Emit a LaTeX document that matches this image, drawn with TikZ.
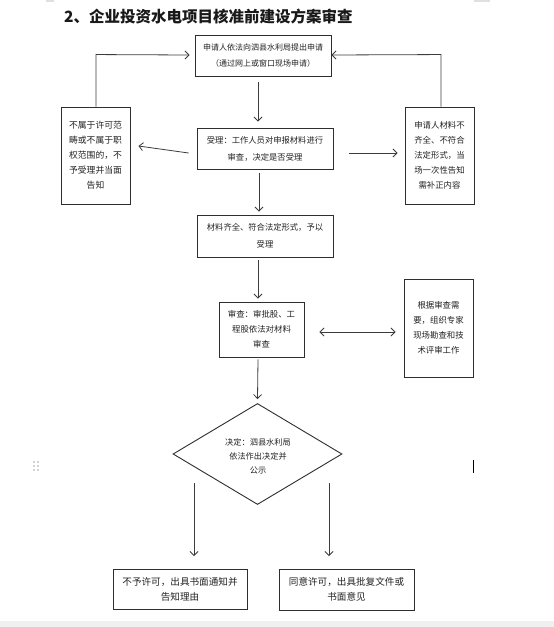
\documentclass[tikz,border=0pt]{standalone}
\usepackage{fontspec}
\setmainfont{Noto Sans CJK SC}
\newfontfamily\cjk{Noto Sans CJK SC}
\usetikzlibrary{arrows.meta,shapes.geometric}
\definecolor{ln}{HTML}{3C3C3C}
\definecolor{bx}{HTML}{2E2E2E}
\definecolor{tx}{HTML}{222222}
\tikzset{
  x=1pt,y=-1pt,
  box/.style={draw=bx,line width=0.9pt,rectangle,inner sep=0pt,align=center,text=tx,font=\cjk\fontsize{8.4}{15}\selectfont},
  widebox/.style={box,font=\cjk\fontsize{8}{16}\selectfont},
  bigbox/.style={box,font=\cjk\fontsize{9.6}{15}\selectfont},
  arr/.style={draw=ln,line width=0.8pt,-{Straight Barb[length=4pt,width=8pt]}},
  darr/.style={draw=ln,line width=0.8pt,{Straight Barb[length=4pt,width=8pt]}-{Straight Barb[length=4pt,width=8pt]}},
  ln/.style={draw=ln,line width=0.8pt}
}
\begin{document}
\begin{tikzpicture}
\useasboundingbox (0,0) rectangle (554,627);
\fill[white] (0,0) rectangle (554,627);
% page artifacts
\fill[black!6] (0,621) rectangle (554,627);
\fill[black!12] (46,0) rectangle (54,2);
\fill[black!12] (474,0) rectangle (490,2);
\foreach \i in {0,1,2}{\fill[black!35] (34,{462+\i*4}) circle (0.8); \fill[black!35] (38,{462+\i*4}) circle (0.8);}
\fill[black] (472.5,460) rectangle (474,473);
% title
\node[anchor=west,text=black!90,font=\cjk\bfseries\fontsize{15.5}{18}\selectfont,inner sep=0pt] (title) at (64,17) {2、企业投资水电项目核准前建设方案审查};
% boxes
\node[widebox,minimum width=136,minimum height=41] (b1) at (263,55.5) {申请人依法向泗县水利局提出申请\\（通过网上或窗口现场申请）};
\node[widebox,font=\cjk\fontsize{8.3}{17}\selectfont,minimum width=136,minimum height=41] (b2) at (265,148.5) {受理：工作人员对申报材料进行\\审查，决定是否受理};
\node[widebox,font=\cjk\fontsize{8.3}{17}\selectfont,minimum width=136,minimum height=42] (b3) at (265,236) {材料齐全、符合法定形式，予以\\受理};
\node[box,minimum width=85,minimum height=55] (b4) at (261.5,329.5) {审查：审批股、工\\程股依法对材料\\审查};
\node[box,font=\cjk\fontsize{8.8}{15}\selectfont,minimum width=69,minimum height=97] (lb) at (95.5,155.5) {不属于许可范\\畴或不属于职\\权范围的，不\\予受理并当面\\告知};
\node[box,minimum width=69,minimum height=97] (rb) at (439.5,155.5) {申请人材料不\\齐全、不符合\\法定形式，当\\场一次性告知\\需补正内容};
\node[box,minimum width=69,minimum height=98] (rb2) at (438.5,328) {根据审查需\\要，组织专家\\现场勘查和技\\术评审工作};
\node[box,diamond,minimum width=169,minimum height=101,aspect=1.67] (dec) at (257.5,454) {};
\node[align=center,text=tx,font=\cjk\fontsize{8.2}{14}\selectfont,inner sep=0pt] (dect) at (258,456) {决定：泗县水利局\\依法作出决定并\\公示};
\node[bigbox,minimum width=134,minimum height=40] (f1) at (180,589) {不予许可，出具书面通知并\\告知理由};
\node[bigbox,minimum width=135,minimum height=41] (f2) at (346.5,589.5) {同意许可，出具批复文件或\\书面意见};
% connectors
\draw[arr] ([xshift=-5pt,yshift=-6pt]b1.south) -- ([xshift=-7pt,yshift=6pt]b2.north);
\draw[arr] ([xshift=-6pt,yshift=-4pt]b2.south) -- ([xshift=-6pt,yshift=3pt]b3.north);
\draw[arr] ([xshift=-7pt,yshift=-3pt]b3.south) -- ([xshift=-3.5pt,yshift=3pt]b4.north);
\draw[arr] ([xshift=-3.5pt,yshift=-2pt]b4.south) -- ([yshift=4pt]dec.north);
\draw[arr] ([xshift=-8pt,yshift=-4.5pt]b2.west) -- ([xshift=8pt,yshift=2.5pt]lb.east |- b2.west);
\draw[arr] ([xshift=16pt,yshift=-4.5pt]b2.east) -- ([xshift=-7pt,yshift=-4.5pt]rb.west |- b2.east);
\draw[darr] ([xshift=15pt,yshift=-2.5pt]b4.east) -- ([xshift=-8pt,yshift=-2.5pt]rb2.west |- b4.east);
\draw[ln,-{Straight Barb[length=4pt,width=8pt]}] ([xshift=0.5pt]lb.north) -- ++(0,-52) -- ([xshift=-5pt]b1.west |- 96,55);
\draw[ln,-{Straight Barb[length=4pt,width=8pt]}] ([xshift=1.5pt]rb.north) -- ++(0,-52) -- (b1.east |- 441,55);
\coordinate (d1) at (194,483);
\coordinate (d2) at (329,483);
\coordinate (e1) at (194,556);
\coordinate (e2) at (329,556);
\draw[arr] (d1) -- (e1);
\draw[arr] (d2) -- (e2);
\end{tikzpicture}
\end{document}
